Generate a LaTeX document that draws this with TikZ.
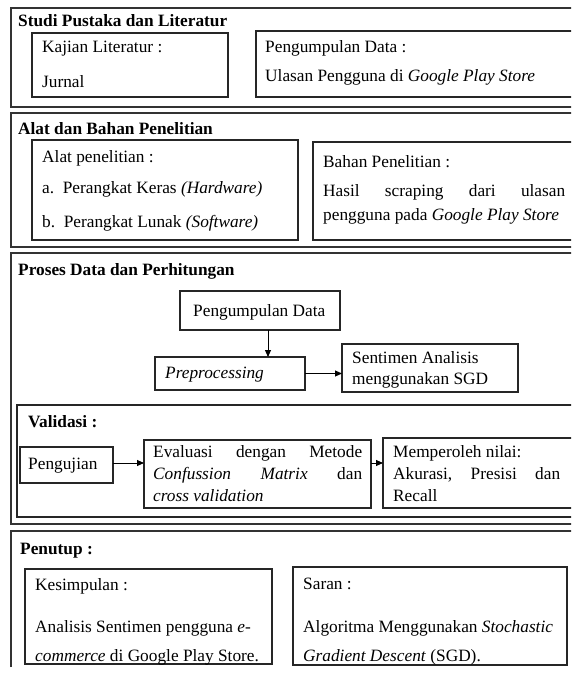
\documentclass[tikz,border=0pt]{standalone}
\usepackage{fontspec}
\setmainfont{Liberation Serif}
\usetikzlibrary{arrows.meta}
\begin{document}
\begin{tikzpicture}[x=1pt,y=-1pt,
  font=\fontsize{17.3}{20}\selectfont,
  obox/.style={draw=black!80, line width=1.4pt, anchor=north west, inner sep=0pt, outer sep=0pt},
  ibox/.style={draw=black!85, line width=1.1pt, anchor=north west, inner sep=0pt, outer sep=0pt},
  txt/.style={anchor=base west, inner sep=0pt},
  arr/.style={draw=black, line width=0.9pt, -{Triangle[length=7pt,width=6pt]}}]
\useasboundingbox (0,0) rectangle (571,678);
\fill[white] (0,0) rectangle (571,678);
\clip (0,0) rectangle (571,678);
% section 1
\node[obox, minimum width=579pt, minimum height=99pt] (s1) at (11,8) {};
\node[ibox, minimum width=196pt, minimum height=64pt] (k1) at (32,33) {};
\node[ibox, minimum width=334pt, minimum height=66pt] (p1) at (256,31) {};
\node[txt] (t1) at (18,26) {\textbf{Studi Pustaka dan Literatur}};
\node[txt] (k1a) at (42,52) {Kajian Literatur :};
\node[txt] (k1b) at (42,87) {Jurnal};
\node[txt] (p1a) at (265,52) {Pengumpulan Data :};
\node[txt] (p1b) at (265,81) {Ulasan Pengguna di \textit{Google Play Store}};
% section 2
\node[obox, minimum width=579pt, minimum height=134pt] (s2) at (11,113) {};
\node[ibox, minimum width=266pt, minimum height=100pt] (a2) at (32,140) {};
\node[ibox, minimum width=277pt, minimum height=98pt] (b2) at (313,142) {};
\node[txt] (t2) at (18,134) {\textbf{Alat dan Bahan Penelitian}};
\node[txt] (a2a) at (42,162) {Alat penelitian :};
\node[txt] (a2b) at (42,193) {a.\ \ Perangkat Keras \textit{(Hardware)}};
\node[txt] (a2c) at (42,227) {b.\ \ Perangkat Lunak \textit{(Software)}};
\node[txt] (b2a) at (323,167) {Bahan Penelitian :};
\node[txt] (b2b) at (323,196) {\hbox to 242pt{Hasil\hfill scraping\hfill dari\hfill ulasan}};
\node[txt] (b2c) at (323,220) {pengguna pada \textit{Google Play Store}};
% section 3
\node[obox, minimum width=579pt, minimum height=271pt] (s3) at (11,253) {};
\node[txt] (t3) at (18,275) {\textbf{Proses Data dan Perhitungan}};
\node[ibox, minimum width=160pt, minimum height=39pt] (pd) at (180,291) {};
\node[ibox, minimum width=150pt, minimum height=33pt] (pre) at (155,357) {};
\node[ibox, minimum width=176pt, minimum height=48pt] (sa) at (342,344) {};
\node[txt] (pdt) at (193,316) {Pengumpulan Data};
\node[txt] (pret) at (165,378) {\textit{Preprocessing}};
\node[txt] (sat1) at (352,363) {Sentimen Analisis};
\node[txt] (sat2) at (352,384) {menggunakan SGD};
\coordinate (ax) at (268,0);
\draw[arr] (pd.south -| ax) -- (pre.north -| ax);
\draw[arr] (pre.east) -- (sa.west |- pre.east);
% validasi
\node[ibox, minimum width=573pt, minimum height=112pt] (val) at (17,405) {};
\node[txt] (valt) at (28,427) {\textbf{Validasi :}};
\node[ibox, minimum width=93pt, minimum height=36pt] (pj) at (20,447) {};
\node[ibox, minimum width=227pt, minimum height=68pt] (ev) at (144,440) {};
\node[ibox, minimum width=207pt, minimum height=70pt] (mp) at (383,438) {};
\node[txt] (pjt) at (28,469) {Pengujian};
\node[txt] (ev1) at (153,457) {\hbox to 209pt{Evaluasi\hfill dengan\hfill Metode}};
\node[txt] (ev2) at (153,479) {\hbox to 209pt{\textit{Confussion}\hfill\textit{Matrix}\hfill dan}};
\node[txt] (ev3) at (153,501) {\textit{cross validation}};
\node[txt] (mp1) at (393,457) {Memperoleh nilai:};
\node[txt] (mp2) at (393,479) {\hbox to 167pt{Akurasi,\hfill Presisi\hfill dan}};
\node[txt] (mp3) at (393,501) {Recall};
\coordinate (ay) at (0,463);
\draw[arr] (pj.east |- ay) -- (ev.west |- ay);
\draw[arr] (ev.east |- ay) -- (mp.west |- ay);
% section 4
\draw[draw=black!80, line width=1.4pt] (11,667) -- (11,531) -- (590,531);
\node[txt] (t4) at (20,554) {\textbf{Penutup :}};
\node[ibox, minimum width=247pt, minimum height=95pt] (ks) at (25,569) {};
\node[ibox, minimum width=274pt, minimum height=98pt] (sr) at (293,567) {};
\node[txt] (ks1) at (35,590) {Kesimpulan :};
\node[txt] (ks2) at (35,632) {Analisis Sentimen pengguna \textit{e-}};
\node[txt] (ks3) at (35,661) {\textit{commerce} di Google Play Store.};
\node[txt] (sr1) at (303,589) {Saran :};
\node[txt] (sr2) at (303,632) {Algoritma Menggunakan \textit{Stochastic}};
\node[txt] (sr3) at (303,661) {\textit{Gradient Descent} (SGD).};
\end{tikzpicture}
\end{document}
